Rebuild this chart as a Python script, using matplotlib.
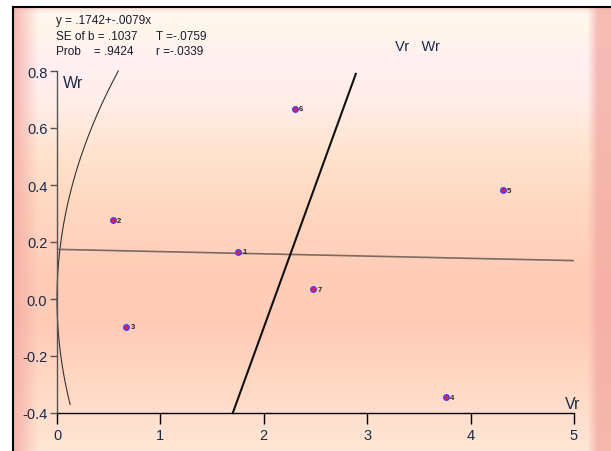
import matplotlib
matplotlib.use("Agg")
import matplotlib.pyplot as plt
import numpy as np

plt.rcParams['font.family'] = ['Liberation Sans', 'DejaVu Sans']

# array means: Vr (variance) and Wr (covariance) per parent
parents = ['1', '2', '3', '4', '5', '6', '7']
vr = [1.75, 0.54, 0.67, 3.76, 4.31, 2.30, 2.48]
wr = [0.165, 0.277, -0.098, -0.344, 0.382, 0.667, 0.035]

# regression of Wr on Vr
intercept = 0.1742
slope = -0.0079
stats_lines = ['y = .1742+-.0079x',
               'SE of b = .1037',
               'Prob    = .9424']
stats_right = ['', 'T =-.0759', 'r =-.0339']

# limiting parabola Wr^2 = Vr * V0L0 and unit-slope line
v0l0 = 1.08
unit_offset = -2.1

xticks = [0, 1, 2, 3, 4, 5]
yticks = [-0.4, -0.2, 0.0, 0.2, 0.4, 0.6, 0.8]

W, H = 611, 452
fig = plt.figure(figsize=(W / 100, H / 100), dpi=100)

# ---- panel background: vertical gradient with tinted edges ----
bg = fig.add_axes([0, 0, 1, 1])
bg.set_xlim(0, W)
bg.set_ylim(H, 0)
bg.axis('off')

stops_y = [8, 14, 30, 60, 100, 150, 200, 270, 330, 400, 452]
stops_c = ['#FAD8D0', '#FFF8F0', '#FFF6EA', '#FFF0F2', '#FFEEEA', '#FFE4D0',
           '#FFD9C2', '#FFCDB8', '#FFCCB8', '#FFDCC8', '#FFE6D6']
rgb = np.array([matplotlib.colors.to_rgb(c) for c in stops_c])
yy = np.arange(H)
col = np.stack([np.interp(yy, stops_y, rgb[:, k]) for k in range(3)], axis=1)
img = np.repeat(col[:, None, :], W, axis=1)

xx = np.arange(W)
edge = np.array(matplotlib.colors.to_rgb('#F3A9A2'))
wl = np.clip((38 - xx) / 24.0, 0, 1) * 0.8
wr_edge = np.clip((xx - 587) / 10.0, 0, 1) * 0.75
wx = np.maximum(wl, wr_edge)
img = img * (1 - wx[None, :, None]) + edge[None, None, :] * wx[None, :, None]
img[:8, :, :] = 1.0
img[:, :13, :] = 1.0
bg.imshow(img, extent=[0, W, H, 0], aspect='auto', interpolation='bilinear')
bg.plot([13, W], [8, 8], color='black', lw=1.5)
bg.plot([13, 13], [8, H], color='black', lw=1.5)

# ---- main plot ----
ax = fig.add_axes([57 / W, (H - 414) / H, 517 / W, 342 / H])
ax.patch.set_alpha(0)
ax.set_xlim(0, 5)
ax.set_ylim(-0.4, 0.8)
for s in ['top', 'right']:
    ax.spines[s].set_visible(False)
ax.spines['left'].set_color('#555555')
ax.spines['bottom'].set_color('black')
ax.spines['left'].set_linewidth(1.0)
ax.spines['bottom'].set_linewidth(1.0)

ax.set_xticks(xticks)
ax.set_xticklabels([str(t) for t in xticks])
ax.set_yticks(yticks)
ax.set_yticklabels(['%.1f' % t for t in yticks])
ax.tick_params(axis='x', direction='out', length=8, width=1, pad=3,
               labelsize=10.5, colors='black', labelcolor='#1a2a4a')
ax.tick_params(axis='y', direction='out', length=5, width=1, pad=2,
               labelsize=10.5, colors='#555555', labelcolor='#1a2a4a')

# limiting parabola
w_par = np.linspace(-0.37, 0.8, 200)
ax.plot(w_par ** 2 / v0l0, w_par, color='#333333', lw=0.8, clip_on=False)

# regression line
xr = np.array([0, 5])
ax.plot(xr, intercept + slope * xr, color='#7d6a5e', lw=1.2)

# unit-slope line
wu = np.array([-0.4, 0.79])
ax.plot(wu - unit_offset, wu, color='#111111', lw=1.5, clip_on=False)

# parent points
ax.plot(vr, wr, 'o', ms=4, mfc='#e0204a', mec='#4a3cff', mew=1.0, ls='none')
for p, x, y in zip(parents, vr, wr):
    ax.annotate(p, (x, y), xytext=(3, 0), textcoords='offset points',
                fontsize=5.5, fontweight='bold', color='#222222',
                va='center', ha='left')

fig.text(63 / W, 1 - 83 / H, 'Wr', fontsize=11.5,
         color='#1a2a4a', va='center', ha='left')
fig.text(565 / W, 1 - 405 / H, 'Vr', fontsize=11.5, color='#1a2a4a',
         va='center', ha='left')
fig.text(395 / W, 1 - 47 / H, 'Vr   Wr', fontsize=10.5, color='#1a2a4a',
         va='center', ha='left')

line_y = [21, 37, 52]
for txt, txt2, py in zip(stats_lines, stats_right, line_y):
    fig.text(56 / W, 1 - py / H, txt, fontsize=8.5, color='#1a1a2a',
             va='center', ha='left')
    if txt2:
        fig.text(156 / W, 1 - py / H, txt2, fontsize=8.5, color='#1a1a2a',
                 va='center', ha='left')

fig.savefig('out.png', dpi=100)
